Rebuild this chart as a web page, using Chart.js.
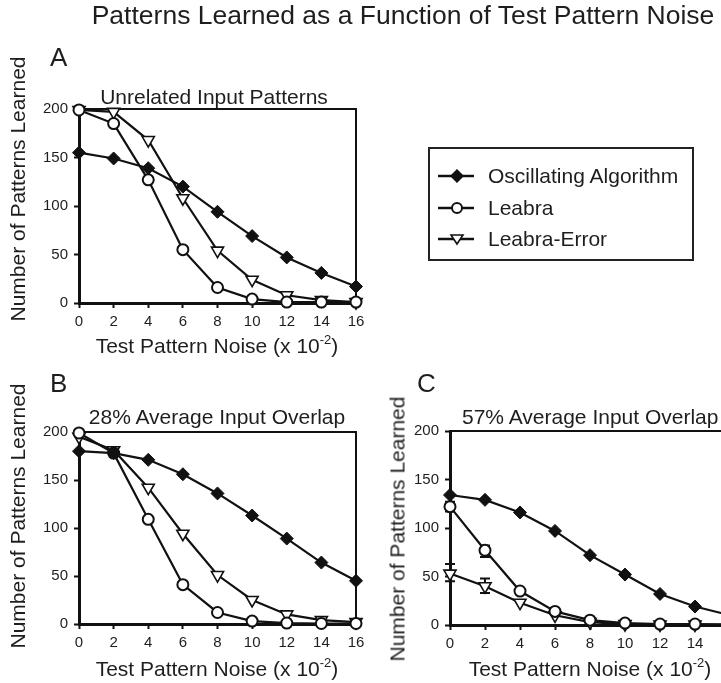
<!DOCTYPE html>
<html>
<head>
<meta charset="utf-8">
<script src="https://cdn.jsdelivr.net/npm/chart.js@4.4.1/dist/chart.umd.min.js"></script>
<style>
html, body { margin: 0; padding: 0; width: 721px; height: 683px; overflow: hidden; background: #fff; }
body { position: relative; font-family: "Liberation Sans", Arial, sans-serif; color: #1e1e1e; }
canvas { position: absolute; left: 0; top: 0; }
.txt { position: absolute; white-space: nowrap; line-height: 1; }
.mid { transform: translate(-50%, -50%); }
.rot { transform: translate(-50%, -50%) rotate(-90deg); }
.title { font-size: 26.5px; }
.letter { font-size: 26px; }
.ptitle { font-size: 21px; }
.axt { font-size: 21px; }
.axt sup { font-size: 13px; vertical-align: 9px; line-height: 0; }
#legend { position: absolute; left: 428px; top: 147px; width: 262px; height: 110px; border: 2px solid #222; }
#legend .row { position: absolute; left: 0; height: 30px; }
#legend svg { position: absolute; left: 6px; top: 0; }
#legend span { position: absolute; left: 58px; top: 4px; font-size: 21px; line-height: 1; white-space: nowrap; }
</style>
</head>
<body>
<canvas id="chartA" width="721" height="683"></canvas>
<canvas id="chartB" width="721" height="683"></canvas>
<canvas id="chartC" width="780" height="683"></canvas>

<div class="txt mid title" style="left:403px; top:15px;">Patterns Learned as a Function of Test Pattern Noise</div>

<div class="txt letter" style="left:50px; top:44px;">A</div>
<div class="txt letter" style="left:50px; top:370px;">B</div>
<div class="txt letter" style="left:417px; top:370px;">C</div>

<div class="txt mid ptitle" style="left:214px; top:96px;">Unrelated Input Patterns</div>
<div class="txt mid ptitle" style="left:217px; top:416px;">28% Average Input Overlap</div>
<div class="txt ptitle" style="left:462px; top:406px;">57% Average Input Overlap</div>

<div class="txt rot axt" style="left:17px; top:189px;">Number of Patterns Learned</div>
<div class="txt rot axt" style="left:17px; top:516px;">Number of Patterns Learned</div>
<div class="txt rot axt" style="left:397px; top:529px;">Number of Patterns Learned</div>

<div class="txt mid axt" style="left:217px; top:345px;">Test Pattern Noise (x 10<sup>-2</sup>)</div>
<div class="txt mid axt" style="left:217px; top:668px;">Test Pattern Noise (x 10<sup>-2</sup>)</div>
<div class="txt mid axt" style="left:590px; top:668px;">Test Pattern Noise (x 10<sup>-2</sup>)</div>

<div id="legend">
  <div class="row" style="top:12px;">
    <svg width="44" height="30"><line x1="2" y1="15" x2="38" y2="15" stroke="#111" stroke-width="2.5"/><polygon points="21,8 28,15 21,22 14,15" fill="#111"/></svg>
    <span>Oscillating Algorithm</span>
  </div>
  <div class="row" style="top:44px;">
    <svg width="44" height="30"><line x1="2" y1="15" x2="38" y2="15" stroke="#111" stroke-width="2.5"/><circle cx="21" cy="15" r="5" fill="#fff" stroke="#111" stroke-width="2"/></svg>
    <span>Leabra</span>
  </div>
  <div class="row" style="top:75px;">
    <svg width="44" height="30"><line x1="2" y1="15" x2="38" y2="15" stroke="#111" stroke-width="2.5"/><polygon points="15,11 27,11 21,20" fill="#fff" stroke="#111" stroke-width="1.6"/></svg>
    <span>Leabra-Error</span>
  </div>
</div>

<script>
const noise = [0, 2, 4, 6, 8, 10, 12, 14, 16]

// A: unrelated input patterns
const oscA = [155, 149, 139, 120, 94, 69, 47, 31, 17]
const leabraA = [199, 185, 127, 55, 16, 4, 1, 1, 1]
const errorA = [199, 197, 168, 108, 54, 24, 8, 3, 1]

// B: 28% overlap
const oscB = [180, 178, 171, 156, 136, 113, 89, 64, 45]
const leabraB = [199, 178, 109, 41, 12, 3, 1, 0.5, 0.5]
const errorB = [195, 181, 142, 94, 51, 25, 10, 4, 2]

// C: 57% overlap
const oscC = [134, 129, 116, 97, 72, 52, 32, 19, 10]
const leabraC = [122, 77, 35, 14, 5, 2, 1, 1, 0.5]
const errorC = [53, 40, 23, 10, 3, 1, 0.5, 0.5, 0.5]
const leabraCLow = [117, 70, null, null, null, null, null, null, null]
const leabraCHigh = [127, 82, null, null, null, null, null, null, null]
const errorCLow = [45, 33, null, null, null, null, null, null, null]
const errorCHigh = [63, 48, null, null, null, null, null, null, null]

const yTicks = [0, 50, 100, 150, 200]

const ink = '#111'

function pts(vals) {
  return vals.map((v, i) => ({ x: noise[i], y: v }))
}

// top and right side of the plot box
const frame = {
  id: 'frame',
  beforeDatasetsDraw(chart) {
    const a = chart.chartArea
    const c = chart.ctx
    c.save()
    c.strokeStyle = ink
    c.lineWidth = 2
    c.beginPath()
    c.moveTo(a.left, a.top)
    c.lineTo(a.right, a.top)
    c.lineTo(a.right, a.bottom)
    c.stroke()
    c.restore()
  }
}

const errBars = {
  id: 'errBars',
  beforeDatasetsDraw(chart) {
    const c = chart.ctx
    const xs = chart.scales.x
    const ys = chart.scales.y
    c.save()
    c.strokeStyle = ink
    c.lineWidth = 2
    chart.data.datasets.forEach(ds => {
      if (!ds.errLow) return
      ds.errLow.forEach((lo, i) => {
        if (lo == null) return
        const x = xs.getPixelForValue(noise[i])
        const y1 = ys.getPixelForValue(lo)
        const y2 = ys.getPixelForValue(ds.errHigh[i])
        c.beginPath()
        c.moveTo(x, y1); c.lineTo(x, y2)
        c.moveTo(x - 5, y1); c.lineTo(x + 5, y1)
        c.moveTo(x - 5, y2); c.lineTo(x + 5, y2)
        c.stroke()
      })
    })
    c.restore()
  }
}

function makePanel(id, area, osc, leabra, error, extra) {
  const canvas = document.getElementById(id)
  const W = canvas.width, H = canvas.height
  const yW = 40, xH = 30
  const dsOsc = {
    label: 'Oscillating Algorithm',
    data: pts(osc),
    borderColor: ink, borderWidth: 2.2,
    pointStyle: 'rectRot', pointRadius: 6.5,
    pointBackgroundColor: ink, pointBorderColor: ink, pointBorderWidth: 1
  }
  const dsLeabra = {
    label: 'Leabra',
    data: pts(leabra),
    borderColor: ink, borderWidth: 2.2,
    pointStyle: 'circle', pointRadius: 5.5,
    pointBackgroundColor: '#fff', pointBorderColor: ink, pointBorderWidth: 2
  }
  const dsError = {
    label: 'Leabra-Error',
    data: pts(error),
    borderColor: ink, borderWidth: 2.2,
    pointStyle: 'triangle', pointRotation: 180, pointRadius: 7,
    pointBackgroundColor: '#fff', pointBorderColor: ink, pointBorderWidth: 1.6
  }
  if (extra) {
    dsLeabra.errLow = extra.leabraLow
    dsLeabra.errHigh = extra.leabraHigh
    dsError.errLow = extra.errorLow
    dsError.errHigh = extra.errorHigh
  }
  const datasets = [dsOsc, dsLeabra, dsError].map(d => Object.assign(d, { tension: 0, clip: false, fill: false }))

  return new Chart(canvas, {
    type: 'line',
    data: { datasets },
    options: {
      responsive: false,
      animation: false,
      devicePixelRatio: 1,
      layout: {
        padding: {
          left: area.left - yW,
          top: area.top,
          right: W - area.right,
          bottom: H - area.bottom - xH
        }
      },
      plugins: { legend: { display: false }, tooltip: { enabled: false } },
      scales: {
        x: {
          type: 'linear', min: 0, max: 16,
          afterFit: s => { s.height = xH },
          border: { display: true, color: ink, width: 3 },
          grid: { drawOnChartArea: false, drawTicks: true, tickLength: 5, tickWidth: 2, tickColor: ink },
          ticks: {
            stepSize: 2, padding: 5, color: '#1e1e1e',
            font: { family: '"Liberation Sans", Arial, sans-serif', size: 15 }
          }
        },
        y: {
          min: 0, max: 200,
          afterFit: s => { s.width = yW },
          afterBuildTicks: s => { s.ticks = yTicks.map(v => ({ value: v })) },
          border: { display: true, color: ink, width: 3 },
          grid: { drawOnChartArea: false, drawTicks: true, tickLength: 5, tickWidth: 2, tickColor: ink },
          ticks: {
            padding: 6, color: '#1e1e1e',
            font: { family: '"Liberation Sans", Arial, sans-serif', size: 15 }
          }
        }
      }
    },
    plugins: [frame, errBars]
  })
}

makePanel('chartA', { left: 79, top: 109, right: 356, bottom: 303 }, oscA, leabraA, errorA)
makePanel('chartB', { left: 79, top: 432, right: 356, bottom: 624 }, oscB, leabraB, errorB)
makePanel('chartC', { left: 450, top: 431, right: 730, bottom: 625 }, oscC, leabraC, errorC, {
  leabraLow: leabraCLow, leabraHigh: leabraCHigh,
  errorLow: errorCLow, errorHigh: errorCHigh
})
</script>
</body>
</html>
